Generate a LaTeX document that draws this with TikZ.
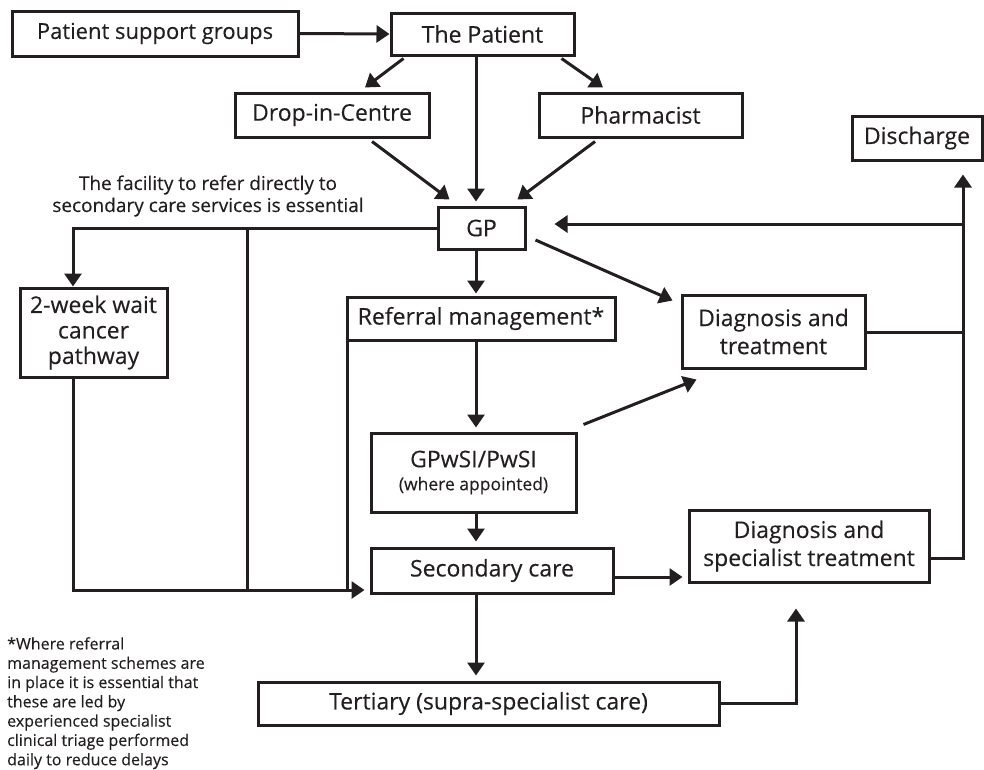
\documentclass[tikz,border=0pt]{standalone}
\usepackage{fontspec}
\setmainfont{Open Sans}[FakeBold=0.25]
\usetikzlibrary{arrows.meta,calc}
\definecolor{ink}{RGB}{35,31,32}
\begin{document}
\begin{tikzpicture}[x=1pt,y=-1pt,
  box/.style={draw=ink, line width=3pt, inner sep=0pt, align=center, text=ink,
    font=\fontsize{23}{27}\selectfont},
  conn/.style={draw=ink, line width=3pt},
  arr/.style={conn, -{Triangle[length=13pt,width=17pt]}},
  plain/.style={inner sep=0pt, text=ink}
]
\useasboundingbox (0,0) rectangle (984,769);
% helper coordinates (x or y of connector lines)
\coordinate (mx) at (476,0);
\coordinate (bx) at (247,0);
\coordinate (lx) at (73,0);
\coordinate (rx) at (963,0);
\coordinate (tx) at (796,0);
\coordinate (by) at (0,590);
\coordinate (sy) at (0,577);
\coordinate (dy) at (0,558);
\coordinate (ty) at (0,332);
\coordinate (gy) at (0,224);

% nodes
\node[box, minimum width=286pt, minimum height=45pt, font=\fontsize{22}{27}\selectfont] (psg) at (155,33.5) {Patient support groups};
\node[box, minimum width=183pt, minimum height=42pt] (patient) at (482.5,34) {The Patient};
\node[box, minimum width=194pt, minimum height=44pt] (dropin) at (332,115) {Drop-in-Centre};
\node[box, minimum width=203pt, minimum height=44pt] (pharm) at (640.5,115) {Pharmacist};
\node[box, minimum width=130pt, minimum height=44pt] (discharge) at (917,138) {Discharge};
\node[box, minimum width=87pt, minimum height=42pt] (gp) at (481.5,228) {GP};
\node[box, minimum width=147pt, minimum height=89pt, font=\fontsize{23}{25.5}\selectfont] (twoweek) at (93.5,332.5) {2-week wait\\cancer\\pathway};
\node[box, minimum width=268pt, minimum height=43pt] (referral) at (481,318.5) {Referral management*};
\node[box, minimum width=183pt, minimum height=73pt, font=\fontsize{23}{28}\selectfont] (dt) at (773.5,331.5) {Diagnosis and\\treatment};
\node[box, minimum width=205pt, minimum height=79pt] (gpwsi) at (473.5,472.5)
  {GPwSI/PwSI\\[-4pt]{\fontsize{17.5}{20}\selectfont (where appointed)}};
\node[box, minimum width=242pt, minimum height=45pt] (secondary) at (492,570.5) {Secondary care};
\node[box, minimum width=240pt, minimum height=72pt, font=\fontsize{23}{28}\selectfont] (ds) at (809,546) {Diagnosis and\\specialist treatment};
\node[box, minimum width=461pt, minimum height=43pt] (tertiary) at (488.5,703.5) {Tertiary (supra-specialist care)};

\node[plain, align=center, font=\fontsize{19}{22}\selectfont] (fac) at (208,196)
  {The facility to refer directly to\\secondary care services is essential};
\node[plain, anchor=north west, align=left, font=\fontsize{16}{19.3}\selectfont] (note) at (7,637)
  {*Where referral\\management schemes are\\in place it is essential that\\these are led by\\experienced specialist\\clinical triage performed\\daily to reduce delays};

% connectors
\draw[arr] (psg.east) -- (patient.west);
\draw[arr] ($(patient.south west)+(14,2)$) -- ($(dropin.north)+(33,-4)$);
\draw[arr] ($(patient.south east)+(-14,2)$) -- ($(pharm.north)+(-37.5,-4)$);
\draw[arr] (patient.south -| mx) -- ($(gp.north -| mx)+(0,-4)$);
\draw[arr] ($(dropin.south)+(40,3)$) -- ($(gp.north west)+(13,-6)$);
\draw[arr] ($(pharm.south)+(-45.5,3)$) -- ($(gp.north east)+(-9,-6)$);

\draw[arr] (gp.west) -| (twoweek.north -| lx);
\draw[conn] (gp.west -| bx) -- (bx |- by);
\draw[arr] (twoweek.south -| lx) -- (lx |- by) -- ($(secondary.west |- by)+(-5,0)$);
\draw[conn] ($(referral.south west)+(2,0)$) -- ($(referral.south west |- by)+(2,0)$);

\draw[arr] (gp.south -| mx) -- ($(referral.north -| mx)+(0,-2)$);
\draw[arr] (referral.south -| mx) -- ($(gpwsi.north -| mx)+(0,-4)$);
\draw[arr] (gpwsi.south -| mx) -- ($(secondary.north -| mx)+(0,-5)$);
\draw[arr] (secondary.south -| mx) -- ($(tertiary.north -| mx)+(0,-5)$);

\draw[arr] (secondary.east |- sy) -- ($(ds.west |- sy)+(-5,0)$);
\draw[arr] (tertiary.east) -| ($(ds.south -| tx)+(0,25)$);
\draw[arr] (ds.east |- dy) -| ($(discharge.south -| rx)+(0,13)$);
\draw[conn] (dt.east |- ty) -- (rx |- ty);
\draw[arr] (rx |- gy) -- ($(gp.east |- gy)+(28,0)$);

\draw[arr] ($(gp.east)+(9,12)$) -- ($(dt.north west)+(-8,7)$);
\draw[arr] ($(gpwsi.north east)+(6,-7)$) -- ($(dt.south west)+(16,10)$);
\end{tikzpicture}
\end{document}
